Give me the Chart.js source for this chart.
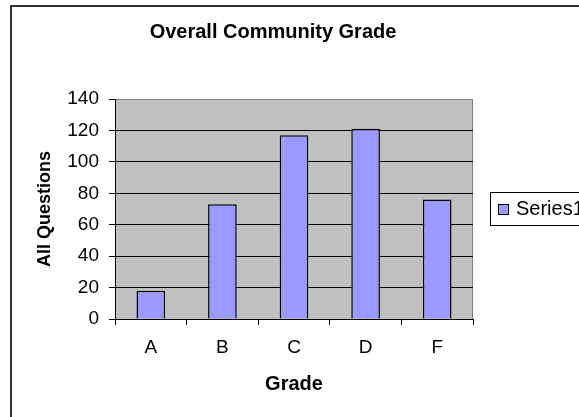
<!DOCTYPE html>
<html>
<head>
<meta charset="utf-8">
<title>Overall Community Grade</title>
<script src="https://cdn.jsdelivr.net/npm/chart.js@4.4.0/dist/chart.umd.min.js"></script>
<style>
  html, body { margin: 0; padding: 0; background: #fff; overflow: hidden; }
  #wrap { position: relative; width: 579px; height: 417px; overflow: hidden; }
  /* Excel chart-area frame: only top and left edges are inside the picture */
  #frame {
    position: absolute; left: 10px; top: 5px; width: 800px; height: 800px;
    border-left: 2px solid #333; border-top: 2px solid #333;
    pointer-events: none;
  }
</style>
</head>
<body>
<div id="wrap">
  <canvas id="chart" width="579" height="417"></canvas>
  <div id="frame"></div>
</div>
<script>
// ---- data ----
const chartTitle = 'Overall Community Grade';
const grades = ['A', 'B', 'C', 'D', 'F'];
const series1 = [18, 73, 117, 121, 76];
const seriesName = 'Series1';
const yAxisTitle = 'All Questions';
const xAxisTitle = 'Grade';
const yMax = 140;
const yStep = 20;

const FONT = "'Liberation Sans', Arial, sans-serif";
Chart.defaults.font.family = FONT;
Chart.defaults.color = '#000';

// grey plot area, title and boxed legend, the way Excel 2003 draws them
const excelLook = {
    id: 'excelLook',
    beforeDraw(chart) {
        const { ctx, chartArea: a } = chart;
        ctx.save();
        ctx.fillStyle = '#c0c0c0';
        ctx.fillRect(a.left, a.top, a.right - a.left, a.bottom - a.top);
        ctx.strokeStyle = '#808080';
        ctx.lineWidth = 1;
        ctx.strokeRect(Math.round(a.left) + 0.5, Math.round(a.top) + 0.5,
            Math.round(a.right - a.left) - 1, Math.round(a.bottom - a.top));
        ctx.restore();
    },
    afterDraw(chart) {
        const { ctx } = chart;
        const ds = chart.data.datasets[0];
        ctx.save();

        // title
        ctx.fillStyle = '#000';
        ctx.font = 'bold 20px ' + FONT;
        ctx.textAlign = 'center';
        ctx.textBaseline = 'middle';
        ctx.fillText(chartTitle, 273, 32);

        // legend box
        ctx.fillStyle = '#fff';
        ctx.fillRect(490, 192, 140, 33);
        ctx.strokeStyle = '#000';
        ctx.lineWidth = 1;
        ctx.strokeRect(490.5, 192.5, 140, 33);
        ctx.fillStyle = ds.backgroundColor;
        ctx.fillRect(498, 204, 10, 10);
        ctx.strokeRect(498.5, 204.5, 10, 10);
        ctx.fillStyle = '#000';
        ctx.font = '20px ' + FONT;
        ctx.textAlign = 'left';
        ctx.textBaseline = 'alphabetic';
        ctx.fillText(ds.label, 516, 215);

        ctx.restore();
    }
};

new Chart(document.getElementById('chart'), {
    type: 'bar',
    data: {
        labels: grades,
        datasets: [{
            label: seriesName,
            data: series1,
            backgroundColor: '#9999ff',
            borderColor: '#000',
            borderWidth: 1.5,
            barPercentage: 0.4,
            categoryPercentage: 1.0,
        }]
    },
    options: {
        responsive: false,
        animation: false,
        devicePixelRatio: 1,
        layout: { padding: { left: 0, top: 99, right: 106, bottom: 0 } },
        plugins: {
            legend: { display: false },
            title: { display: false },
            tooltip: { enabled: false },
        },
        scales: {
            x: {
                grid: { drawOnChartArea: false, offset: true, tickLength: 6, color: '#000' },
                border: { color: '#000' },
                ticks: { color: '#000', padding: 11, font: { size: 19 } },
                title: {
                    display: true, text: xAxisTitle, color: '#000',
                    font: { size: 20, weight: 'bold' },
                    padding: { top: 0, bottom: 21 },
                },
                afterFit(scale) { scale.height = 98; },
            },
            y: {
                min: 0,
                max: yMax,
                ticks: { stepSize: yStep, color: '#000', padding: 10, font: { size: 19 } },
                grid: {
                    color: ctx => (ctx.tick && ctx.tick.value === yMax ? '#808080' : '#000'),
                    tickColor: '#000',
                    tickLength: 6,
                },
                border: { color: '#000' },
                title: {
                    display: true, text: yAxisTitle, color: '#000',
                    font: { size: 18, weight: 'bold' },
                    padding: { top: 34, bottom: 0 },
                },
                afterFit(scale) { scale.width = 115; },
            },
        },
    },
    plugins: [excelLook],
});
</script>
</body>
</html>
